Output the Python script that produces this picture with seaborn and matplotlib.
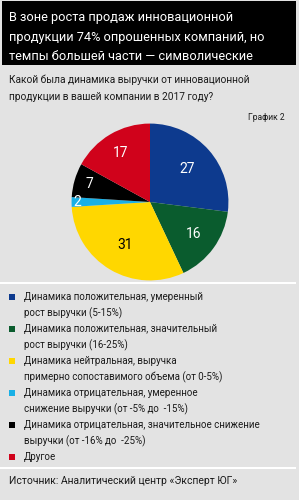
import matplotlib
matplotlib.use("Agg")
import matplotlib.pyplot as plt
import seaborn as sns
from matplotlib.patches import Rectangle
import numpy as np

# ---- data ----
title_lines = ["В зоне роста продаж инновационной",
               "продукции 74% опрошенных компаний, но",
               "темпы большей части — символические"]
question_lines = ["Какой была динамика выручки от инновационной",
                  "продукции в вашей компании в 2017 году?"]
chart_tag = "График 2"
categories = [
    "Динамика положительная, умеренный\nрост выручки (5-15%)",
    "Динамика положительная, значительный\nрост выручки (16-25%)",
    "Динамика нейтральная, выручка\nпримерно сопоставимого объема (от 0-5%)",
    "Динамика отрицательная, умеренное\nснижение выручки (от -5% до  -15%)",
    "Динамика отрицательная, значительное снижение\nвыручки (от -16% до  -25%)",
    "Другое",
]
values = [27, 16, 31, 2, 7, 17]
source = "Источник: Аналитический центр «Эксперт ЮГ»"

# ---- style ----
colors = ["#0d3a8e", "#0a5c2e", "#ffd700", "#19b0e6", "#000000", "#d0021b"]
label_colors = ["white", "white", "black", "white", "white", "white"]
label_r = [0.63, 0.69, 0.63, 0.93, 0.81, 0.73]

sns.set_style("white")
FONT = ["Roboto", "DejaVu Sans"]
plt.rcParams["font.family"] = FONT
palette = sns.color_palette(colors)

W, H = 299, 500
bg = "#e3e3e3"
fig = plt.figure(figsize=(W / 100, H / 100), dpi=100, facecolor=bg)
renderer = fig.canvas.get_renderer()

def fx(x):
    return x / W

def fy(y):
    return 1 - y / H

def fit_size(text, target_px, base=10.0):
    t = fig.text(0, 0, text, fontsize=base)
    w = t.get_window_extent(renderer).width
    t.remove()
    return base * target_px / w

# title box
fig.patches.append(Rectangle((fx(2), fy(65)), fx(294), 64 / H, transform=fig.transFigure,
                             facecolor="black", edgecolor="none", zorder=0))
ts = fit_size(title_lines[1], 255)
for i, t in enumerate(title_lines):
    fig.text(fx(9), fy(17 + 20 * i), t, color="white", fontsize=ts,
             va="center", ha="left")

qs = fit_size(question_lines[0], 241)
for i, t in enumerate(question_lines):
    fig.text(fx(9), fy(80 + 16.5 * i), t, color="#1a1a1a", fontsize=qs,
             va="center", ha="left")
fig.text(fx(285), fy(117), chart_tag, color="#1a1a1a", fontsize=fit_size(chart_tag, 37),
         va="center", ha="right")

# pie
cx, cy, r = 150, 202, 80
ax = fig.add_axes([fx(cx - r), fy(cy + r), 2 * r / W, 2 * r / H])
ax.set_facecolor("none")
wedges, _ = ax.pie(values, colors=palette, startangle=90, counterclock=False,
                   radius=1.0, wedgeprops=dict(linewidth=0))
for w, v, lc, lr in zip(wedges, values, label_colors, label_r):
    ang = np.deg2rad((w.theta1 + w.theta2) / 2)
    ax.text(lr * np.cos(ang), lr * np.sin(ang), str(v), color=lc,
            fontsize=10, ha="center", va="center")
ax.set_xlim(-1.02, 1.02)
ax.set_ylim(-1.02, 1.02)
ax.set_aspect("equal")
ax.axis("off")

# separators
for yy in (283, 468):
    fig.patches.append(Rectangle((0, fy(yy + 1)), fx(296), 2 / H, transform=fig.transFigure,
                                 facecolor="white", edgecolor="none"))

# legend
ls = fit_size(categories[4].split("\n")[0], 235)
line_y = 297
step = 16
for cat, col in zip(categories, palette):
    lines = cat.split("\n")
    fig.patches.append(Rectangle((fx(8.5), fy(line_y + 3)), fx(6), 6 / H,
                                 transform=fig.transFigure, facecolor=col, edgecolor="none"))
    for ln in lines:
        fig.text(fx(24), fy(line_y), ln, color="#1a1a1a", fontsize=ls,
                 va="center", ha="left")
        line_y += step

fig.text(fx(9), fy(481), source, color="#1a1a1a", fontsize=fit_size(source, 230),
         va="center", ha="left")

fig.savefig("out.png", dpi=100, facecolor=bg)
